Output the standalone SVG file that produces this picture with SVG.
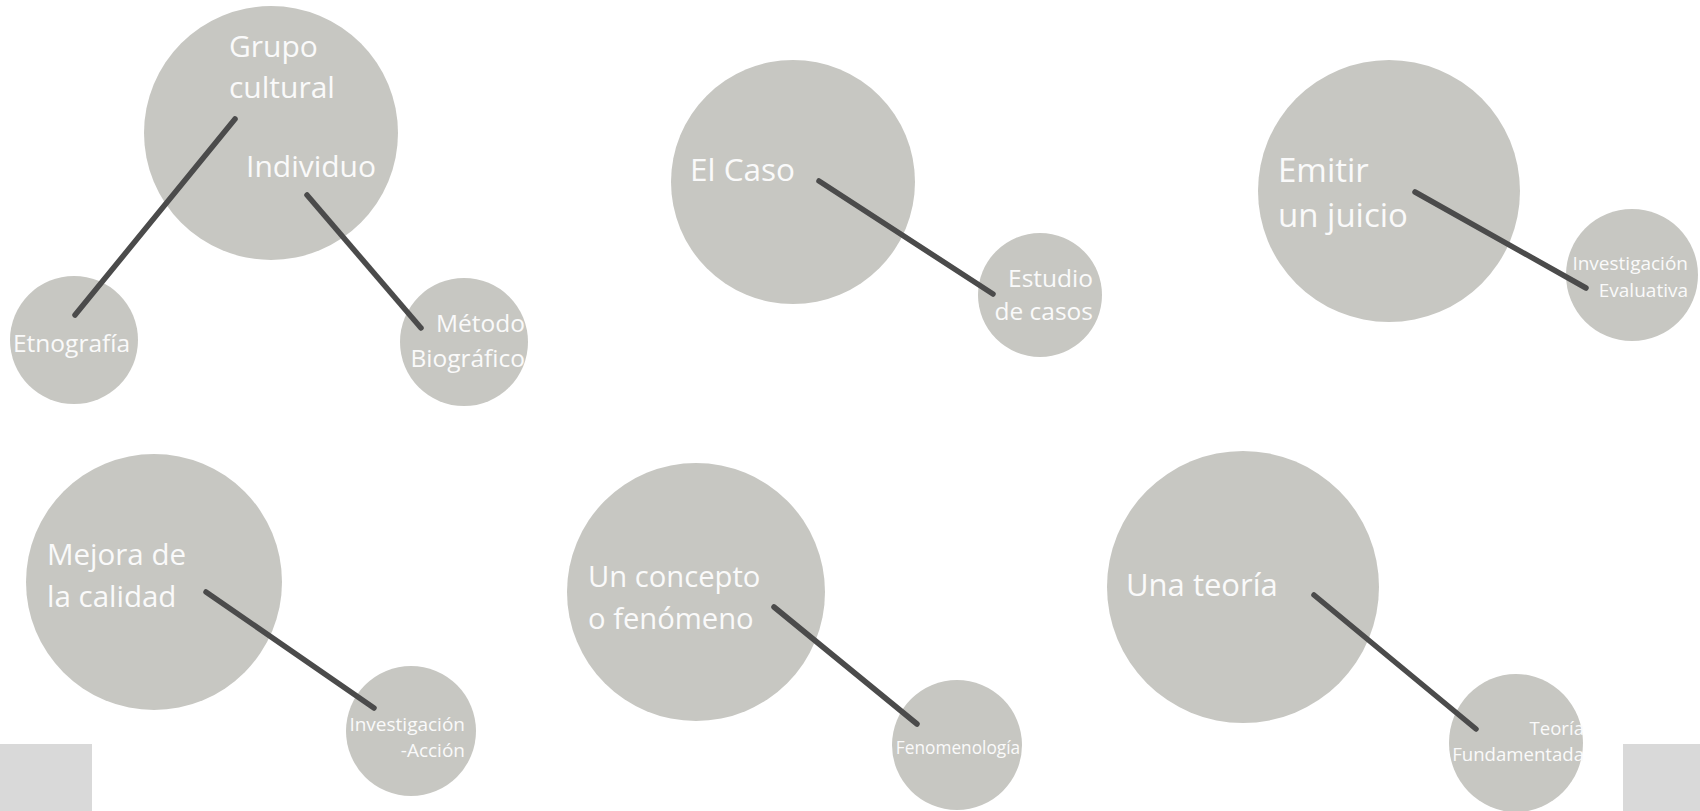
<svg xmlns="http://www.w3.org/2000/svg" width="1700" height="811" viewBox="0 0 1700 811">
<style>
.c{fill:#c7c7c2}
.t{fill:#fafafa;font-family:"Open Sans","Noto Sans","DejaVu Sans",sans-serif}
.L{font-size:30px}
.M{font-size:24.5px}
.S{font-size:19px}
.e{text-anchor:end}
.k{stroke:#4b4b4b;stroke-width:5.5;stroke-linecap:round;fill:none}
.r{fill:#d9d9d9}
</style>
<rect class="r" x="0" y="744" width="92" height="67"/>
<rect class="r" x="1623" y="744" width="77" height="67"/>
<g id="n-grupo"><circle class="c" cx="271" cy="133" r="127"/>
<text class="t L" x="229" y="57">Grupo</text><text class="t L" x="229" y="98">cultural</text>
<text class="t L" x="246" y="177">Individuo</text></g>
<g id="n-etno"><circle class="c" cx="74" cy="340" r="64"/><text class="t M" x="13" y="352">Etnografía</text></g>
<g id="n-metodo"><circle class="c" cx="464" cy="342" r="64"/><text class="t M e" x="525" y="332">Método</text><text class="t M e" x="525" y="367">Biográfico</text></g>
<g id="n-caso"><circle class="c" cx="793" cy="182" r="122"/><text class="t L" x="690" y="181" style="font-size:31.5px">El Caso</text></g>
<g id="n-estudio"><circle class="c" cx="1040" cy="295" r="62"/><text class="t M e" x="1093" y="287">Estudio</text><text class="t M e" x="1093" y="320">de casos</text></g>
<g id="n-emitir"><circle class="c" cx="1389" cy="191" r="131"/><text class="t L" x="1278" y="182" style="font-size:33px">Emitir</text><text class="t L" x="1278" y="227" style="font-size:33px">un juicio</text></g>
<g id="n-eval"><circle class="c" cx="1632" cy="275" r="66"/><text class="t S e" x="1688" y="270">Investigación</text><text class="t S e" x="1688" y="297">Evaluativa</text></g>
<g id="n-mejora"><circle class="c" cx="154" cy="582" r="128"/><text class="t L" x="47" y="565" style="font-size:29.5px">Mejora de</text><text class="t L" x="47" y="607" style="font-size:29.5px">la calidad</text></g>
<g id="n-accion"><circle class="c" cx="411" cy="731" r="65"/><text class="t S e" x="465" y="731">Investigación</text><text class="t S e" x="465" y="757">-Acción</text></g>
<g id="n-concepto"><circle class="c" cx="696" cy="592" r="129"/><text class="t L" x="588" y="587" style="font-size:29.2px">Un concepto</text><text class="t L" x="588" y="629" style="font-size:29.2px">o fenómeno</text></g>
<g id="n-feno"><circle class="c" cx="957" cy="745" r="65"/><text class="t" x="958" y="754" style="font-size:17.3px;text-anchor:middle">Fenomenología</text></g>
<g id="n-teoria"><circle class="c" cx="1243" cy="587" r="136"/><text class="t L" x="1126" y="596" style="font-size:31px">Una teoría</text></g>
<g id="n-fund"><ellipse class="c" cx="1516" cy="743" rx="67" ry="69"/><text class="t e" x="1584" y="735" style="font-size:18.6px">Teoría</text><text class="t e" x="1584" y="761" style="font-size:18.6px">Fundamentada</text></g>
<g id="connectors">
<line class="k" x1="235" y1="119" x2="75" y2="315"/>
<line class="k" x1="307" y1="195" x2="421" y2="328"/>
<line class="k" x1="819" y1="181" x2="993" y2="294"/>
<line class="k" x1="1415" y1="192" x2="1586" y2="288"/>
<line class="k" x1="206" y1="592" x2="374" y2="708"/>
<line class="k" x1="774" y1="607" x2="917" y2="724"/>
<line class="k" x1="1314" y1="595" x2="1476" y2="729"/>
</g>
</svg>
